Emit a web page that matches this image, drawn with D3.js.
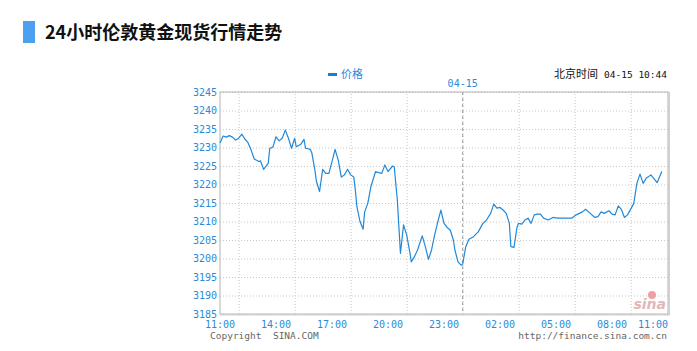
<!DOCTYPE html>
<html>
<head>
<meta charset="utf-8">
<script src="https://cdn.jsdelivr.net/npm/d3@7"></script>
<style>
  body { margin: 0; background: #fff; }
  svg { display: block; }
  text { white-space: pre; }
  .grid line { stroke: #c8c8c8; stroke-dasharray: 1,2; }
  .grid path { display: none; }
</style>
</head>
<body>
<script>
// price series, 04-14 11:00 -> 04-15 10:40 (Beijing time)
var times = ["11:00","11:10","11:20","11:30","11:40","11:50","12:00","12:10","12:20","12:30","12:40","12:50",
  "13:05","13:10","13:20","13:25","13:35","13:40","13:50","14:00","14:10","14:20","14:30","14:40","14:50",
  "15:00","15:05","15:20","15:30","15:35","15:50","15:55","16:05","16:10","16:20","16:30","16:40","16:50",
  "17:00","17:10","17:20","17:30","17:40","17:50","18:00","18:10","18:15","18:20","18:30","18:40","18:45",
  "18:55","19:05","19:20","19:30","19:40","19:50","20:00","20:15","20:20","20:30","20:35","20:40","20:45",
  "20:50","21:00","21:10","21:15","21:25","21:35","21:50","22:00","22:10","22:20","22:30","22:40","22:50",
  "23:00","23:10","23:20","23:30","23:35","23:45","23:55","00:00","00:10","00:20","00:35","00:50","01:05",
  "01:15","01:30","01:40","01:50","02:00","02:10","02:20","02:30","02:35","02:45","02:55","03:00","03:10",
  "03:20","03:30","03:40","03:50","04:00","04:10","04:20","04:35","04:50","05:05","05:50","06:05","06:25",
  "06:35","06:50","07:05","07:15","07:25","07:35","07:50","08:00","08:10","08:20","08:30","08:40","08:50",
  "09:10","09:20","09:30","09:40","09:50","10:05","10:25","10:40"];
var prices = [3231.2,3233.1,3232.8,3233.2,3232.8,3232.0,3232.5,3233.6,3232.3,3231.3,3229.3,3226.9,
  3226.2,3226.4,3224.1,3224.6,3225.7,3229.8,3230.1,3232.9,3231.8,3232.5,3234.7,3232.5,3229.8,
  3232.5,3230.2,3230.9,3232.2,3229.8,3229.5,3228.6,3223.9,3220.8,3218.1,3224.1,3223.0,3223.0,
  3226.2,3229.5,3226.6,3222.0,3222.6,3224.1,3222.6,3222.0,3218.5,3214.0,3210.0,3207.9,3212.6,
  3214.9,3219.4,3223.5,3223.2,3223.0,3225.3,3223.5,3225.0,3224.8,3215.8,3208.6,3201.4,3205.2,
  3209.1,3206.4,3201.8,3199.1,3200.5,3202.3,3206.1,3203.2,3199.8,3202.3,3206.4,3209.9,3213.1,
  3209.5,3208.4,3207.7,3205.0,3202.3,3199.1,3198.2,3198.5,3203.2,3205.2,3205.9,3207.2,3209.5,
  3210.2,3212.2,3214.7,3213.6,3213.8,3213.1,3212.2,3209.5,3203.2,3203.0,3208.6,3209.5,3209.3,
  3210.4,3210.9,3209.5,3211.8,3212.0,3212.0,3210.9,3210.4,3211.1,3210.9,3210.9,3211.8,3212.6,
  3213.3,3212.2,3211.1,3211.3,3212.6,3212.2,3212.9,3212.0,3211.8,3214.2,3213.3,3211.1,3211.8,
  3214.9,3220.3,3222.8,3220.3,3221.7,3222.6,3220.5,3223.5];
var xTicks = ["11:00","14:00","17:00","20:00","23:00","02:00","05:00","08:00","11:00"];
var yTicks = [3185,3190,3195,3200,3205,3210,3215,3220,3225,3230,3235,3240,3245];

// hours before 11:00 belong to the next day
function toDate(t, i) {
  var h = +t.slice(0, 2), m = +t.slice(3, 5);
  var day = (h < 11 || (i > 0 && t === "11:00")) ? 15 : 14;
  return new Date(2025, 3, day, h, m);
}
var data = times.map(function(t, i) { return { t: toDate(t, i), v: prices[i] }; });

const W = 697, H = 351;
const pL = 220, pR = 668, pT = 92, pB = 314;
const blue = "#2a8ad8";
const mono = "'DejaVu Sans Mono', monospace";

const svg = d3.select("body").append("svg")
  .attr("width", W).attr("height", H);

// title
svg.append("rect").attr("x", 23).attr("y", 21).attr("width", 12).attr("height", 22).attr("fill", "#4d9ff0");
svg.append("text").attr("x", 45).attr("y", 39)
  .attr("font-family", "'Noto Sans CJK SC', sans-serif").attr("font-size", 18).attr("font-weight", "bold")
  .attr("fill", "#111").text("24小时伦敦黄金现货行情走势");

var x = d3.scaleTime()
  .domain([new Date(2025, 3, 14, 11, 0), new Date(2025, 3, 15, 11, 0)])
  .range([pL, pR]);
var y = d3.scaleLinear().domain([3185, 3245]).range([pB, pT]);

// grid
svg.append("g").attr("class", "grid")
  .attr("transform", "translate(" + pL + ",0)")
  .call(d3.axisLeft(y).tickValues(yTicks).tickSize(-(pR - pL)).tickFormat(""));
svg.append("g").attr("class", "grid")
  .attr("transform", "translate(0," + pB + ")")
  .call(d3.axisBottom(x).ticks(d3.timeHour.every(3)).tickSize(-(pB - pT)).tickFormat(""));

// date divider
var mid = x(new Date(2025, 3, 15, 0, 0));
svg.append("line").attr("x1", mid).attr("x2", mid).attr("y1", pT).attr("y2", pB)
  .attr("stroke", "#999").attr("stroke-dasharray", "3,3");
svg.append("text").attr("x", mid).attr("y", 87).attr("text-anchor", "middle")
  .attr("font-family", mono).attr("font-size", 10).attr("fill", blue).text("04-15");

// frame
svg.append("rect").attr("x", pL).attr("y", pT).attr("width", pR - pL).attr("height", pB - pT)
  .attr("fill", "none").attr("stroke", "#b4b4b4");
svg.append("line").attr("x1", pR + 1).attr("x2", pR + 1).attr("y1", pT).attr("y2", pB + 1)
  .attr("stroke", "#d0d0d0").attr("stroke-width", 2);
svg.append("line").attr("x1", pL).attr("x2", pR + 2).attr("y1", pB + 1).attr("y2", pB + 1)
  .attr("stroke", "#d0d0d0").attr("stroke-width", 1);

// y labels
svg.append("g").selectAll("text").data(yTicks).enter().append("text")
  .attr("x", pL - 3).attr("y", function(d) { return y(d) + 3.5; })
  .attr("text-anchor", "end").attr("font-family", mono).attr("font-size", 10).attr("fill", blue)
  .text(function(d) { return d; });

// x labels
svg.append("g").selectAll("text").data(xTicks).enter().append("text")
  .attr("x", function(d, i) { return i === xTicks.length - 1 ? pR : x(d3.timeHour.offset(x.domain()[0], i * 3)); })
  .attr("y", 328)
  .attr("text-anchor", function(d, i) { return i === xTicks.length - 1 ? "end" : "middle"; })
  .attr("font-family", mono).attr("font-size", 10).attr("fill", blue)
  .text(function(d) { return d; });

// line
var line = d3.line().x(function(d) { return x(d.t); }).y(function(d) { return y(d.v); });
svg.append("path").datum(data).attr("d", line)
  .attr("fill", "none").attr("stroke", "#2288d8").attr("stroke-width", 1.2).attr("stroke-linejoin", "round");

// legend
svg.append("rect").attr("x", 328).attr("y", 73).attr("width", 9).attr("height", 3).attr("fill", "#1a7fd0");
svg.append("text").attr("x", 341).attr("y", 78)
  .attr("font-family", "'Noto Sans CJK SC', sans-serif").attr("font-size", 11).attr("fill", blue).text("价格");

// clock
var clock = svg.append("text").attr("x", 667).attr("y", 78).attr("text-anchor", "end").attr("fill", "#111");
clock.append("tspan").attr("font-family", "'Noto Sans CJK SC', sans-serif").attr("font-size", 11).text("北京时间");
clock.append("tspan").attr("dx", 6).attr("font-family", mono).attr("font-size", 9.5).text("04-15 10:44");

// footer
svg.append("text").attr("x", 210).attr("y", 339).attr("font-family", mono).attr("font-size", 9.5)
  .attr("fill", "#666").text("Copyright  SINA.COM");
svg.append("text").attr("x", 667).attr("y", 339).attr("text-anchor", "end").attr("font-family", mono)
  .attr("font-size", 9.5).attr("fill", "#666").text("http://finance.sina.com.cn");

// watermark
svg.append("circle").attr("cx", 652).attr("cy", 295).attr("r", 4).attr("fill", "#f0a0a0");
svg.append("text").attr("x", 666).attr("y", 309).attr("text-anchor", "end")
  .attr("font-family", "'DejaVu Sans', sans-serif").attr("font-size", 14).attr("font-style", "italic")
  .attr("font-weight", "bold").attr("fill", "#e0b8b8").text("sina");
</script>
</body>
</html>
